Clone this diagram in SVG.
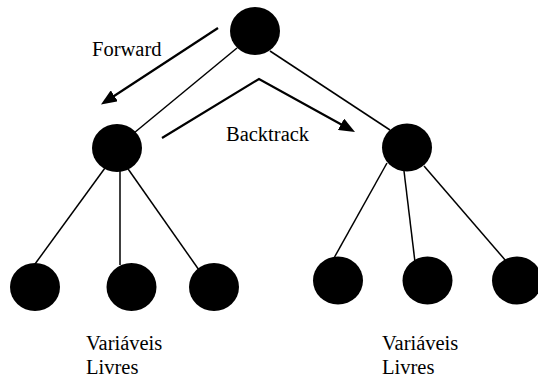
<svg xmlns="http://www.w3.org/2000/svg" width="538" height="379" viewBox="0 0 538 379">
  <defs>
    <style>
      .node { fill: #000; }
      .edge { stroke: #000; stroke-width: 1.5; fill: none; }
      .arrow { stroke: #000; stroke-width: 2.2; fill: none; }
      .label { font-family: "Liberation Serif", "Times New Roman", serif; font-size: 20.5px; fill: #000; }
    </style>
    <marker id="ah" markerUnits="userSpaceOnUse" markerWidth="17" markerHeight="13" refX="4" refY="6.5" orient="auto">
      <path d="M0,0 L16,6.5 L0,13 z" fill="#000"/>
    </marker>
  </defs>
  <rect width="538" height="379" fill="#fff"/>

  <g id="connectors">
    <line class="edge" x1="237" y1="48" x2="117" y2="147"/>
    <line class="edge" x1="270" y1="51" x2="390" y2="130"/>
    <line class="edge" x1="105" y1="168" x2="35" y2="264"/>
    <line class="edge" x1="120" y1="170" x2="120" y2="265"/>
    <line class="edge" x1="126" y1="166" x2="199" y2="270"/>
    <line class="edge" x1="387" y1="163" x2="334" y2="258"/>
    <line class="edge" x1="404" y1="171" x2="415" y2="262"/>
    <line class="edge" x1="424" y1="166" x2="506" y2="261"/>
    <line id="forward-arrow" class="arrow" x1="218" y1="28" x2="111" y2="98" marker-end="url(#ah)"/>
    <polyline id="backtrack-arrow" class="arrow" points="162,138 259,79 344.5,126.2" marker-end="url(#ah)"/>
  </g>

  <g id="n-root"><ellipse class="node" cx="255" cy="31" rx="25" ry="24"/></g>
  <g id="n-left"><ellipse class="node" cx="117" cy="148" rx="25" ry="24"/></g>
  <g id="n-right"><ellipse class="node" cx="407" cy="147.5" rx="25" ry="24"/></g>
  <g id="n-left-1"><ellipse class="node" cx="35" cy="287" rx="25" ry="24"/></g>
  <g id="n-left-2"><ellipse class="node" cx="131.5" cy="287" rx="25" ry="24"/></g>
  <g id="n-left-3"><ellipse class="node" cx="214" cy="287" rx="25" ry="24"/></g>
  <g id="n-right-1"><ellipse class="node" cx="338" cy="280.5" rx="25" ry="24"/></g>
  <g id="n-right-2"><ellipse class="node" cx="427.5" cy="280.5" rx="25" ry="24"/></g>
  <g id="n-right-3"><ellipse class="node" cx="517" cy="280.5" rx="25" ry="24"/></g>

  <g id="labels">
    <text class="label" x="92" y="56">Forward</text>
    <text class="label" x="226" y="140.5">Backtrack</text>
    <text class="label" x="86" y="350">Variáveis</text>
    <text class="label" x="86" y="374">Livres</text>
    <text class="label" x="382" y="350">Variáveis</text>
    <text class="label" x="382" y="374">Livres</text>
  </g>
</svg>
